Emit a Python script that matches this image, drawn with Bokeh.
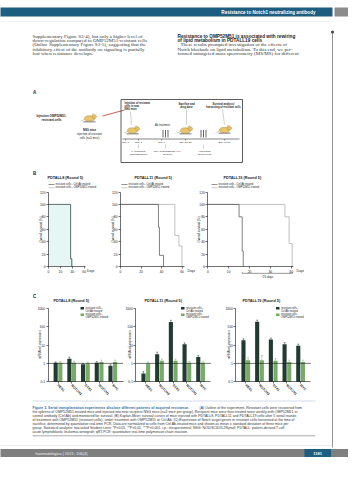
import math
from bokeh.plotting import figure
from bokeh.models import Range1d, LinearAxis, LogAxis, LogScale, FixedTicker
from bokeh.core.properties import value
from bokeh.embed import file_html
from bokeh.resources import INLINE

# ---------------- data ----------------
surv_titles = ["PDTALL8 (Round 5)", "PDTALL11 (Round 5)", "PDTALL19 (Round 5)"]
legend_ctrl = "resistant cells - Ctrl Ab treated"
legend_omp = "resistant cells - OMP52M51 treated"

pdtall8_ctrl_days = [0, 37, 39]
pdtall8_ctrl_surv = [100, 12.5, 0]
pdtall8_omp_days = [0, 37.5, 39.5]
pdtall8_omp_surv = [100, 12.5, 0]

pdtall11_ctrl_days = [0, 37, 38, 42]
pdtall11_ctrl_surv = [100, 63, 18, 0]
pdtall11_omp_days = [0, 53, 57, 60]
pdtall11_omp_surv = [100, 50, 33, 0]

pdtall19_ctrl_days = [0, 15, 16.5, 17]
pdtall19_ctrl_surv = [100, 80, 25, 0]
pdtall19_omp_days = [0, 37, 39, 40.5]
pdtall19_omp_surv = [100, 80, 37, 0]

surv_xticks_8 = [0, 20, 40, 60]
surv_xticks_11 = [0, 20, 40, 60]
surv_xticks_19 = [0, 10, 20, 30, 40]
surv_yticks = [0, 20, 40, 60, 80, 100, 120]
surv_ylabel = "Overall survival (%)"
gain_label = "~25 days"

genes = ["HES1", "NOTCH3", "DTX1", "NOTCH1", "MYC"]
bar_ylabel = "mRNA rel. expression"
bar_yticks = [0.1, 1, 10, 100, 1000]
bar_ytick_labels = ["0.1", "1", "10", "100", "1000"]

pdtall8_ctrl_expr = [1.1, 1.8, 0.9, 1.1, 0.75]
pdtall8_ctrl_err = [0.1, 0.4, 0.1, 0.15, 0.1]
pdtall8_omp_expr = [1.1, 1.1, 1.0, 1.2, 1.2]
pdtall8_omp_err = [0.15, 0.2, 0.15, 0.3, 0.3]

pdtall11_ctrl_expr = [0.28, 3.1, 180, 11, 2.2]
pdtall11_ctrl_err = [0.08, 1.0, 40, 2.0, 0.5]
pdtall11_omp_expr = [1.0, 1.4, 1.4, 1.1, 1.1]
pdtall11_omp_err = [0.2, 0.3, 0.3, 0.2, 0.2]

pdtall19_ctrl_expr = [18, 185, 20, 11, 9.2]
pdtall19_ctrl_err = [4, 40, 4, 2.5, 2]
pdtall19_omp_expr = [1.5, 1.5, 1.4, 1.2, 1.2]
pdtall19_omp_err = [0.5, 1.2, 0.4, 0.3, 0.3]

# ---------------- page geometry ----------------
PX0, PX1, PY0, PY1 = 8, 356, 8, 472
p = figure(width=348, height=464, output_backend="svg", toolbar_location=None,
           x_range=Range1d(PX0, PX1), y_range=Range1d(PY1, PY0),
           x_axis_type=None, y_axis_type=None, min_border=0)
p.min_border_left = p.min_border_right = p.min_border_top = p.min_border_bottom = 0
p.title.visible = False
p.outline_line_color = None
p.grid.visible = False
p.background_fill_color = "white"
p.border_fill_color = "white"

SANS = "Liberation Sans"
SERIF = "Liberation Serif"


def rng(v0, p0, v1, p1, pa, pb, log=False):
    f = math.log10 if log else (lambda v: v)
    a0, a1 = f(v0), f(v1)

    def inv(pp):
        return a0 + (pp - p0) * (a1 - a0) / (p1 - p0)
    s, e = inv(pa), inv(pb)
    if log:
        s, e = 10 ** s, 10 ** e
    return Range1d(s, e)


def txt(x, y, s, size=3.0, color="#222222", align="left", bold=False, font=SANS,
        angle=0.0, baseline="middle", xr="default", yr="default"):
    p.text(x=[x], y=[y], text=[s], text_font=value(font), text_font_size=f"{size}px",
           text_color=color, text_align=align, text_baseline=baseline, angle=angle,
           text_font_style="bold" if bold else "normal", x_range_name=xr, y_range_name=yr)


def line(xs, ys, color="#333333", width=0.5, dash="solid"):
    p.line(x=xs, y=ys, line_color=color, line_width=width, line_dash=dash)


def style_axis(a):
    a.axis_line_width = 0.6
    a.axis_line_color = "#111111"
    a.major_tick_line_width = 0.6
    a.major_tick_line_color = "#111111"
    a.major_tick_in = 0
    a.major_tick_out = 2
    a.minor_tick_line_color = None
    a.major_label_text_font_size = "3.3px"
    a.major_label_text_font = SANS
    a.major_label_text_color = "#222222"
    a.major_label_standoff = 1


# ---------------- header ----------------
p.quad(left=0, right=340, top=15, bottom=24, fill_color="#1c5d80", line_color=None)
p.quad(left=342, right=364, top=15, bottom=24, fill_color="#8c8c8c", line_color=None)
txt(323, 19.6, "Resistance to Notch1 neutralizing antibody", size=4.6, color="white",
    align="right", bold=True)
line([0, 340], [29, 29], color="#e2e2e2", width=0.5)

# right margin rule
line([340, 340], [39.5, 455], color="#4a4a4a", width=0.6)
p.scatter(x=[340], y=[39.5], size=3.2, fill_color="#4a4a4a", line_color=None)

# ---------------- body text ----------------
left_lines = ["Supplementary Figure S3-4), but only a higher level of",
              "down-regulation compared to OMP52M51-resistant cells",
              "(Online Supplementary Figure S3-5), suggesting that the",
              "inhibitory effect of the antibody on signaling is partially",
              "lost when resistance develops."]
right_lines = ["These results prompted investigation of the effects of",
               "Notch blockade on lipid metabolism. To this end, we per-",
               "formed untargeted mass spectrometry (MS/MS) for different"]
for i, s in enumerate(left_lines):
    txt(40, 43.5 + i * 4.35, s, size=5.0, font=SERIF, color="#333333")
txt(185, 43.5, "Resistance to OMP52M51 is associated with rewiring", size=4.7, bold=True)
txt(185, 47.85, "of lipid metabolism in PDTALL19 cells", size=4.7, bold=True)
for i, s in enumerate(right_lines):
    txt(185 + (3 if i == 0 else 0), 52.2 + i * 4.35, s, size=5.0, font=SERIF, color="#333333")

# ---------------- panel A : schematic ----------------
txt(40.5, 99.5, "A", size=4.5, bold=True)


def mouse(cx, cy):
    p.quad(left=cx - 6, right=cx + 6, top=cy + 2.6, bottom=cy + 4.0,
           fill_color="#a0a4a8", line_color=None)
    p.ellipse(x=[cx], y=[cy], width=[10], height=[5.5], fill_color="#e8c46a",
              line_color="#9a7a2a", line_width=0.4)
    p.ellipse(x=[cx + 4.8], y=[cy - 1.8], width=[4.6], height=[3.4], fill_color="#e8c46a",
              line_color="#9a7a2a", line_width=0.4)
    p.ellipse(x=[cx + 3.8], y=[cy - 3.6], width=[2.2], height=[2.2], fill_color="#f0d68e",
              line_color="#9a7a2a", line_width=0.3)
    line([cx - 5, cx - 8], [cy + 1, cy + 2.5], color="#9a7a2a", width=0.4)


txt(59, 123.5, "Injection OMP52M51-", size=3.0, bold=True, align="center")
txt(59, 127.5, "resistant cells", size=3.0, bold=True, align="center")
mouse(97, 126)
txt(97, 137.5, "NSG mice", size=2.8, align="center", bold=True)
txt(97, 141.5, "injection of resistant", size=2.8, align="center")
txt(97, 145.5, "cells (n=5 mice)", size=2.8, align="center")
line([110, 132], [123.5, 117.5], color="#c0392b", width=0.8)

p.quad(left=128.5, right=250, top=107, bottom=170, fill_color=None, line_color="#333333",
       line_width=0.8)
txt(132, 110.5, "Injection of resistant", size=2.6, bold=True)
txt(132, 113.8, "cells in new", size=2.6, bold=True)
txt(132, 117.1, "NSG mice", size=2.6, bold=True)
line([138, 139], [119, 132], color="#888888", width=0.4)
mouse(140, 138)
txt(170, 132.5, "Ab treatment", size=2.6, align="center")
for bx in (170.5, 173, 175.5, 208.5, 211, 213.5):
    line([bx, bx], [137.5, 145], color="#222222", width=0.7)
txt(194, 111.5, "Sacrifice and", size=2.6, align="center", bold=True)
txt(194, 114.8, "drug dose", size=2.6, align="center", bold=True)
line([194, 194], [117, 132], color="#888888", width=0.4)
mouse(193, 138)
txt(231, 111.5, "Survival analysis/", size=2.6, align="center", bold=True)
txt(231, 114.8, "harvesting of resistant cells", size=2.6, align="center", bold=True)
line([230, 232], [117, 132], color="#888888", width=0.4)
mouse(232, 137.5)
line([182, 186], [141, 141], color="#bbbbbb", width=0.4, dash="1 1")
line([219, 224], [141, 141], color="#bbbbbb", width=0.4, dash="1 1")
line([130, 247], [146.5, 146.5], color="#333333", width=0.6)
for tx, lab in ((133, "Day 0"), (146, "Day 3"), (169, "Day 7"), (193, "Day 21-28"),
                (232, "Day 45-50")):
    line([tx, tx], [146.5, 148], color="#333333", width=0.5)
    txt(tx, 150.3, lab, size=2.5, align="center")
for tx in (146, 173, 211):
    line([tx, tx], [152, 156], color="#888888", width=0.4)
txt(146, 158.5, "1° treatment:", size=2.5, align="center")
txt(146, 161.8, "OMP52M51/ctrl", size=2.5, align="center")
txt(175, 158.5, "Ctrl Ab/OMP52M51 (i.p.)", size=2.5, align="center")
txt(175, 161.8, "2x/week", size=2.5, align="center")
txt(212, 158.5, "Harvesting", size=2.5, align="center")
txt(212, 161.8, "spleen cells", size=2.5, align="center")

# ---------------- panel B : survival ----------------
txt(40.5, 181, "B", size=4.5, bold=True)

surv_panels = [
    dict(key="s8", xmap=(0, 56, 60, 91.7), xticks=surv_xticks_8, xb=(0, 62),
         ctrl=(pdtall8_ctrl_days, pdtall8_ctrl_surv), omp=(pdtall8_omp_days, pdtall8_omp_surv),
         title=surv_titles[0], tx=55, lx=56, ylab_x=48, days_x=94.5, fill=True),
    dict(key="s11", xmap=(0, 128, 60, 189.5), xticks=surv_xticks_11, xb=(0, 62),
         ctrl=(pdtall11_ctrl_days, pdtall11_ctrl_surv), omp=(pdtall11_omp_days, pdtall11_omp_surv),
         title=surv_titles[1], tx=142, lx=129, ylab_x=120, days_x=195, fill=False),
    dict(key="s19", xmap=(0, 215.3, 40, 298.7), xticks=surv_xticks_19, xb=(0, 41),
         ctrl=(pdtall19_ctrl_days, pdtall19_ctrl_surv), omp=(pdtall19_omp_days, pdtall19_omp_surv),
         title=surv_titles[2], tx=231, lx=219, ylab_x=206, days_x=304, fill=False),
]
SY = (0, 274, 120, 199.5)
CTRL_C, OMP_C = "#4a4a4a", "#a6a6a6"

for sp in surv_panels:
    xr, yr = sp["key"] + "x", sp["key"] + "y"
    p.extra_x_ranges[xr] = rng(*sp["xmap"], PX0, PX1)
    p.extra_y_ranges[yr] = rng(*SY, PY1, PY0)
    if sp["fill"]:
        p.varea_step(x=sp["omp"][0], y1=[0] * len(sp["omp"][0]), y2=sp["omp"][1],
                     step_mode="after", fill_color="#e6f6f4", x_range_name=xr, y_range_name=yr)
    p.step(x=sp["omp"][0], y=sp["omp"][1], mode="after", line_color=OMP_C if not sp["fill"] else "#7cc4b8",
           line_width=0.7, x_range_name=xr, y_range_name=yr)
    p.step(x=sp["ctrl"][0], y=sp["ctrl"][1], mode="after", line_color=CTRL_C, line_width=0.7,
           x_range_name=xr, y_range_name=yr)
    xa = LinearAxis(x_range_name=xr, y_range_name=yr, fixed_location=0, bounds=sp["xb"],
                    ticker=FixedTicker(ticks=sp["xticks"]))
    style_axis(xa)
    p.add_layout(xa, "below")
    ya = LinearAxis(x_range_name=xr, y_range_name=yr, fixed_location=0, bounds=(0, 120),
                    ticker=FixedTicker(ticks=surv_yticks))
    style_axis(ya)
    p.add_layout(ya, "left")
    txt(sp["tx"], 185.5, sp["title"], size=3.8, bold=True)
    line([sp["lx"], sp["lx"] + 6], [192, 192], color=CTRL_C, width=0.6)
    line([sp["lx"], sp["lx"] + 6], [195.2, 195.2], color=OMP_C, width=0.6)
    txt(sp["lx"] + 7, 192, legend_ctrl, size=2.6)
    txt(sp["lx"] + 7, 195.2, legend_omp, size=2.6)
    txt(sp["ylab_x"], 237, surv_ylabel, size=3.0, align="center", angle=math.pi / 2)
    txt(sp["days_x"], 278.3, "Days", size=3.3)

# gain bracket on PDTALL19
xr19, yr19 = "s19x", "s19y"
g0, g1 = pdtall19_ctrl_days[-2], pdtall19_omp_days[-1]
p.segment(x0=[g0, g0, g1], y0=[-11, -9, -9], x1=[g1, g0, g1], y1=[-11, -11, -11],
          line_color="#333333", line_width=0.5, x_range_name=xr19, y_range_name=yr19)
txt((g0 + g1) / 2, -17, gain_label, size=3.0, align="center", xr=xr19, yr=yr19)

# ---------------- panel C : expression bars ----------------
txt(40.5, 304, "C", size=4.5, bold=True)
BY = (0.1, 389.3, 1000, 315.7)
DARK, GREEN = "#213b31", "#78ab68"
bar_panels = [
    dict(key="b8", axis=55.5, ctrl=pdtall8_ctrl_expr, ce=pdtall8_ctrl_err,
         omp=pdtall8_omp_expr, oe=pdtall8_omp_err, title=surv_titles[0], tx=61, lx=88, ylab_x=47.5),
    dict(key="b11", axis=143.3, ctrl=pdtall11_ctrl_expr, ce=pdtall11_ctrl_err,
         omp=pdtall11_omp_expr, oe=pdtall11_omp_err, title=surv_titles[1], tx=152, lx=188.5, ylab_x=137),
    dict(key="b19", axis=243.3, ctrl=pdtall19_ctrl_expr, ce=pdtall19_ctrl_err,
         omp=pdtall19_omp_expr, oe=pdtall19_omp_err, title=surv_titles[2], tx=250, lx=283.5, ylab_x=236.5),
]
idx = list(range(1, len(genes) + 1))
SP = 13.7
for bp in bar_panels:
    xr, yr = bp["key"] + "x", bp["key"] + "y"
    a = bp["axis"]
    p.extra_x_ranges[xr] = rng(1, a + 10, 5, a + 10 + 4 * SP, PX0, PX1)
    p.extra_y_ranges[yr] = rng(*BY, PY1, PY0, log=True)
    p.extra_y_scales[yr] = LogScale()
    x_lo = 1 - 10 / SP
    x_hi = 1 + 65 / SP
    xc = [i - 0.17 for i in idx]
    xo = [i + 0.17 for i in idx]
    p.vbar(x=xc, top=bp["ctrl"], bottom=0.1, width=0.3, fill_color=DARK, line_color=None,
           x_range_name=xr, y_range_name=yr)
    p.vbar(x=xo, top=bp["omp"], bottom=0.1, width=0.3, fill_color=GREEN, line_color=None,
           x_range_name=xr, y_range_name=yr)
    for xs, tops, errs, col in ((xc, bp["ctrl"], bp["ce"], DARK), (xo, bp["omp"], bp["oe"], GREEN)):
        hi = [t + e for t, e in zip(tops, errs)]
        p.segment(x0=xs, y0=tops, x1=xs, y1=hi, line_color=col, line_width=0.5,
                  x_range_name=xr, y_range_name=yr)
        p.segment(x0=[x - 0.07 for x in xs], y0=hi, x1=[x + 0.07 for x in xs], y1=hi,
                  line_color=col, line_width=0.5, x_range_name=xr, y_range_name=yr)
    p.segment(x0=[x_lo], y0=[1], x1=[x_hi], y1=[1], line_color="#1a1a1a", line_width=0.6,
              x_range_name=xr, y_range_name=yr)
    xa = LinearAxis(x_range_name=xr, y_range_name=yr, fixed_location=0.1, bounds=(x_lo, x_hi),
                    ticker=FixedTicker(ticks=idx),
                    major_label_overrides={i: g for i, g in zip(idx, genes)})
    style_axis(xa)
    xa.major_label_orientation = -math.pi / 4
    xa.major_label_text_font_style = "bold"
    p.add_layout(xa, "below")
    ya = LogAxis(x_range_name=xr, y_range_name=yr, fixed_location=x_lo, bounds=(0.1, 1000),
                 ticker=FixedTicker(ticks=bar_yticks),
                 major_label_overrides={t: s for t, s in zip(bar_yticks, bar_ytick_labels)})
    style_axis(ya)
    p.add_layout(ya, "left")
    txt(bp["tx"], 308.3, bp["title"], size=3.8, bold=True)
    txt(bp["ylab_x"], 352, bar_ylabel, size=3.0, align="center", angle=math.pi / 2)
    lx = bp["lx"]
    p.quad(left=lx, right=lx + 3.5, top=314.5, bottom=317, fill_color=DARK, line_color=None)
    p.quad(left=lx, right=lx + 3.5, top=321, bottom=323.5, fill_color=GREEN, line_color=None)
    txt(lx + 5, 315.8, "resistant cells -", size=2.6)
    txt(lx + 5, 318.9, "Ctrl Ab treated", size=2.6)
    txt(lx + 5, 322.3, "resistant cells -", size=2.6)
    txt(lx + 5, 325.4, "OMP52M51 treated", size=2.6)

# ---------------- caption ----------------
line([40, 323], [408.5, 408.5], color="#9dbbd6", width=0.5)
cap_blue = "Figure 3. Serial transplantation experiments disclose different patterns of acquired resistance."
cap_lines = [
    "(A) Outline of the experiment. Resistant cells were recovered from",
    "the spleens of OMP52M51-treated mice and injected into new recipient NSG mice (n=5 mice per group). Recipient mice were then treated twice weekly with OMP52M51 or",
    "control antibody (Ctrl Ab) and monitored for survival. (B) Kaplan-Meier survival curves of mice injected with PDTALL8, PDTALL11 and PDTALL19 cells after 5 serial rounds",
    "of treatment with OMP52M51 (resistant cells), under treatment with OMP52M51 or Ctrl Ab. (C) Expression of Notch target genes in resistant cells harvested at the time of",
    "sacrifice, determined by quantitative real-time PCR. Data are normalized to cells from Ctrl Ab-treated mice and shown as mean ± standard deviation of three mice per",
    "group. Statistical analysis: two-tailed Student t-test; *P<0.05, **P<0.01, ***P<0.001. i.p.: intraperitoneal; NSG: NOD/SCID/IL2Rγnull; PDTALL: patient-derived T-cell",
    "acute lymphoblastic leukemia xenograft; qRT-PCR: quantitative real-time polymerase chain reaction.",
]
txt(40, 415, cap_blue, size=3.5, color="#2f6fa8", bold=True)
txt(207, 415, cap_lines[0], size=3.5, color="#333333")
for i, s in enumerate(cap_lines[1:]):
    txt(40, 419.1 + i * 4.05, s, size=3.5, color="#333333")
line([40, 323], [443.3, 443.3], color="#555555", width=0.5)

# ---------------- footer ----------------
line([0, 340], [453, 453], color="#d6d6d6", width=0.5)
p.quad(left=0, right=364, top=456.6, bottom=464.4, fill_color="#7f7f7f", line_color=None)
p.quad(left=312, right=338.5, top=456.6, bottom=464.4, fill_color="#1c5d80", line_color=None)
txt(43, 460.5, "haematologica | 2021; 106(4)", size=4.0, color="#eeeeee")
txt(325.2, 460.5, "1181", size=4.0, color="white", align="center", bold=True)

open("out.html", "w").write(file_html(p, INLINE))
